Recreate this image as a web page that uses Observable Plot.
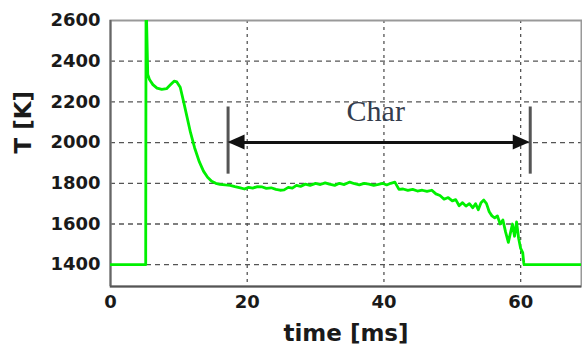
<!DOCTYPE html>
<html><head><meta charset="utf-8">
<script src="https://cdn.jsdelivr.net/npm/d3@7"></script>
<script src="https://cdn.jsdelivr.net/npm/@observablehq/plot@0.6"></script>
<style>body{margin:0;background:#fff}</style>
</head><body><div id="chart"></div>
<script>
const time = [0, 5.15, 5.2, 5.45, 5.7, 6.2, 6.8, 7.5, 8.2, 8.8, 9.3, 9.7, 10.2, 10.7, 11.2, 11.7, 12.3, 13.0, 13.6, 14.2, 14.8, 15.4, 16.0, 16.8, 17.5, 18.2, 19.0, 19.6, 20.2, 20.8, 21.5, 22.2, 22.8, 23.5, 24.2, 24.8, 25.4, 26.0, 26.6, 27.2, 27.8, 28.5, 29.2, 30.0, 30.7, 31.4, 32.0, 32.8, 33.5, 34.2, 35.0, 35.7, 36.4, 37.1, 37.8, 38.5, 39.2, 39.8, 40.4, 41.0, 41.6, 42.2, 42.8, 43.5, 44.2, 44.9, 45.6, 46.3, 47.0, 47.6, 48.2, 48.8, 49.4, 50.0, 50.5, 51.0, 51.5, 52.0, 52.5, 53.0, 53.4, 53.8, 54.2, 54.6, 55.0, 55.4, 55.8, 56.2, 56.6, 57.0, 57.4, 57.8, 58.2, 58.5, 58.8, 59.1, 59.4, 59.7, 60.0, 60.3, 60.45, 60.5, 68.9];
const temp = [1400, 1400, 2720, 2335, 2310, 2285, 2268, 2262, 2265, 2285, 2302, 2298, 2272, 2200, 2125, 2050, 1975, 1905, 1860, 1830, 1810, 1800, 1795, 1792, 1790, 1784, 1778, 1772, 1780, 1776, 1784, 1782, 1775, 1778, 1770, 1766, 1768, 1780, 1776, 1790, 1785, 1796, 1790, 1800, 1794, 1802, 1796, 1790, 1800, 1794, 1806, 1798, 1792, 1800, 1796, 1790, 1795, 1800, 1792, 1800, 1806, 1770, 1772, 1765, 1770, 1762, 1766, 1760, 1766, 1748, 1740, 1722, 1730, 1714, 1720, 1690, 1705, 1688, 1700, 1680, 1700, 1670, 1705, 1718, 1700, 1660, 1640, 1630, 1640, 1600, 1620, 1560, 1510, 1555, 1600, 1540, 1610, 1530, 1480, 1460, 1410, 1400, 1400];
const xTicks = [0, 20, 40, 60];
const yTicks = [1400, 1600, 1800, 2000, 2200, 2400, 2600];
const gridX = [20, 40, 60];
const gridY = [1400, 1600, 1800, 2000, 2200, 2400];
const xLabel = "time [ms]";
const yLabel = "T [K]";
const charLabel = "Char";
const charStart = 17.2, charEnd = 61.4, charT = 2000;
const barLow = 1845, barHigh = 2175;
const labelX = 38.8, labelT = 2155;

const data = time.map((t, i) => ({t, T: temp[i]}));

function arrowHeads(index, scales) {
  const x = scales.x, y = scales.y;
  const g = d3.create("svg:g");
  const x0 = x(charStart), x1 = x(charEnd), yy = y(charT);
  const h = 17, w = 7.5;
  g.append("path").attr("d", `M${x0},${yy}L${x0 + h},${yy - w}L${x0 + h},${yy + w}Z`).attr("fill", "#111");
  g.append("path").attr("d", `M${x1},${yy}L${x1 - h},${yy - w}L${x1 - h},${yy + w}Z`).attr("fill", "#111");
  return g.node();
}

const chart = Plot.plot({
  width: 582, height: 352,
  marginLeft: 110, marginRight: 1, marginTop: 20, marginBottom: 66,
  x: {domain: [0, 68.9], ticks: xTicks, label: null},
  y: {domain: [1293, 2600], ticks: yTicks, label: null},
  style: {fontFamily: "DejaVu Sans", fontWeight: "bold", fontSize: "18px", color: "#1a1a1a", background: "#fff"},
  marks: [
    Plot.ruleY(gridY, {stroke: "#555", strokeWidth: 1.3, strokeDasharray: "5,4"}),
    Plot.ruleX(gridX, {stroke: "#555", strokeWidth: 1.3, strokeDasharray: "3,4"}),
    Plot.frame({stroke: "#999", strokeWidth: 2}),
    Plot.ruleX([0], {stroke: "#666", strokeWidth: 2}),
    Plot.ruleY([1293], {stroke: "#555", strokeWidth: 2}),
    Plot.line(data, {x: "t", y: "T", stroke: "#00f000", strokeWidth: 2.8, clip: true, strokeLinejoin: "round"}),
    Plot.ruleX([charStart, charEnd], {y1: barLow, y2: barHigh, stroke: "#555", strokeWidth: 3}),
    Plot.ruleY([charT], {x1: charStart + 2, x2: charEnd - 2, stroke: "#111", strokeWidth: 3}),
    arrowHeads,
    Plot.text([charLabel], {x: labelX, y: labelT, text: d => d, fontFamily: "Liberation Serif", fontWeight: "normal", fontSize: 30, fill: "#343c4c", lineAnchor: "middle"}),
    Plot.axisX({ticks: xTicks, tickSize: 0, tickPadding: 9, tickFormat: d => String(d), label: null}),
    Plot.axisY({ticks: yTicks, tickSize: 0, tickPadding: 10, tickFormat: d => String(d), label: null}),
    Plot.text([xLabel], {frameAnchor: "bottom", dy: 47, text: d => d, fontSize: 23, fontWeight: "bold", fill: "#1a1a1a", lineAnchor: "middle"}),
    Plot.text([yLabel], {frameAnchor: "left", dx: -87, rotate: -90, text: d => d, fontSize: 23, fontWeight: "bold", fill: "#1a1a1a", lineAnchor: "middle"})
  ]
});
document.getElementById("chart").appendChild(chart);
</script>
</body></html>
